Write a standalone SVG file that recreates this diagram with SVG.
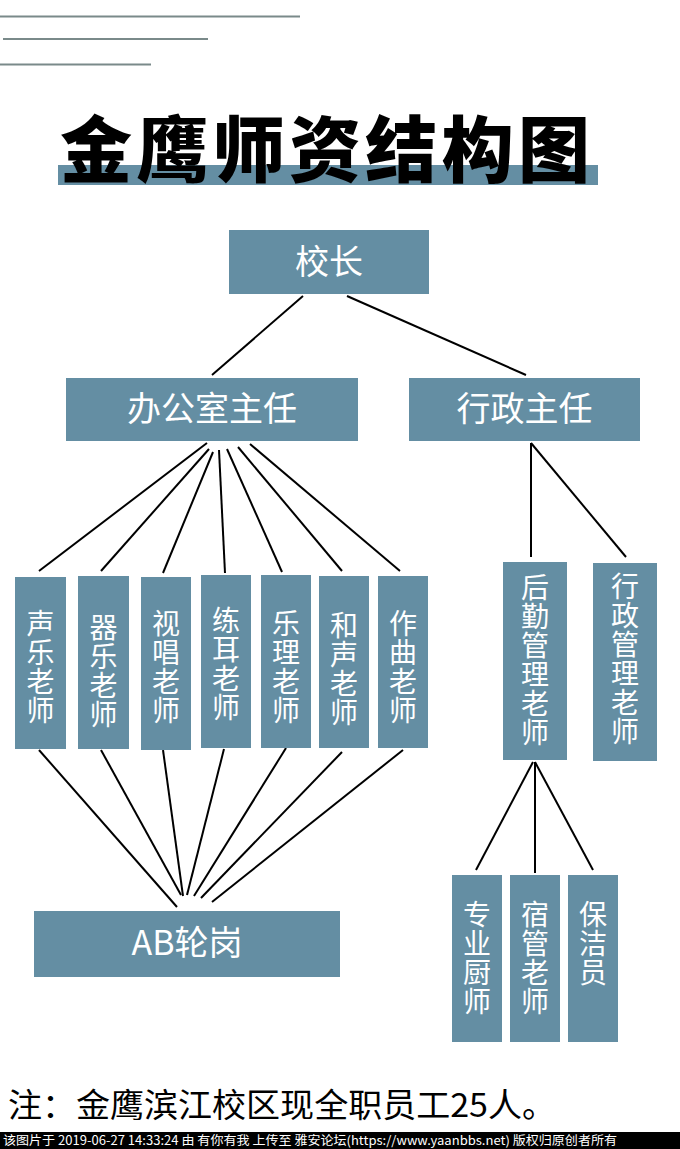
<svg xmlns="http://www.w3.org/2000/svg" width="680" height="1149" viewBox="0 0 680 1149">
<style>
.box{fill:#648ea3}
.t{font-family:"Noto Sans CJK SC","Noto Sans",sans-serif;fill:#ffffff;text-anchor:middle}
.h{font-size:34px}
.v{font-size:28px}
.c line{stroke:#000;stroke-width:2}
.deco{stroke:#7a8a8a;stroke-width:2}
</style>
<rect width="680" height="1149" fill="#ffffff"/>
<g id="decor">
<line class="deco" x1="0" y1="16.5" x2="300" y2="16.5"/>
<line class="deco" x1="3" y1="39" x2="208" y2="39"/>
<line class="deco" x1="0" y1="64.5" x2="151" y2="64.5"/>
</g>
<g id="title">
<rect class="box" x="58" y="165" width="540" height="20"/>
<text x="60" y="176" font-family="'Noto Sans CJK SC',sans-serif" font-weight="900" font-size="72" fill="#000" textLength="530" lengthAdjust="spacing">金鹰师资结构图</text>
</g>
<g class="c" id="connectors">
<line x1="303" y1="296" x2="212" y2="375"/>
<line x1="347" y1="296" x2="526" y2="375"/>
<line x1="207" y1="443" x2="39" y2="571"/>
<line x1="209" y1="449" x2="101" y2="571"/>
<line x1="213" y1="452" x2="163" y2="573"/>
<line x1="219" y1="450" x2="225" y2="573"/>
<line x1="227" y1="449" x2="282" y2="572"/>
<line x1="238" y1="447" x2="342" y2="571"/>
<line x1="250" y1="444" x2="400" y2="571"/>
<line x1="39" y1="750" x2="177" y2="907"/>
<line x1="101" y1="750" x2="181" y2="895"/>
<line x1="163" y1="750" x2="183" y2="896"/>
<line x1="224" y1="749" x2="187" y2="895"/>
<line x1="286" y1="748" x2="194" y2="896"/>
<line x1="342" y1="752" x2="201" y2="898"/>
<line x1="403" y1="750" x2="212" y2="902"/>
<line x1="531" y1="443" x2="531" y2="557"/>
<line x1="531" y1="443" x2="626" y2="557"/>
<line x1="533" y1="762" x2="476" y2="870"/>
<line x1="535" y1="762" x2="535" y2="873"/>
<line x1="535" y1="762" x2="593" y2="870"/>
</g>
<g id="n-principal"><rect class="box" x="229" y="230" width="200" height="64"/><text class="t h" x="329" y="274">校长</text></g>
<g id="n-office"><rect class="box" x="66" y="378" width="292" height="63"/><text class="t h" x="212" y="421">办公室主任</text></g>
<g id="n-admin"><rect class="box" x="409" y="378" width="231" height="63"/><text class="t h" x="524.5" y="421">行政主任</text></g>
<g id="n-vocal"><rect class="box" x="15" y="577" width="51" height="172"/><text class="t v" x="40.5"><tspan x="40.5" y="634">声</tspan><tspan x="40.5" dy="29">乐</tspan><tspan x="40.5" dy="29">老</tspan><tspan x="40.5" dy="29">师</tspan></text></g>
<g id="n-instr"><rect class="box" x="78" y="576" width="51" height="173"/><text class="t v" x="103.5"><tspan x="103.5" y="638">器</tspan><tspan x="103.5" dy="29">乐</tspan><tspan x="103.5" dy="29">老</tspan><tspan x="103.5" dy="29">师</tspan></text></g>
<g id="n-sight"><rect class="box" x="141" y="577" width="50" height="173"/><text class="t v" x="166"><tspan x="166" y="634">视</tspan><tspan x="166" dy="29">唱</tspan><tspan x="166" dy="29">老</tspan><tspan x="166" dy="29">师</tspan></text></g>
<g id="n-ear"><rect class="box" x="201" y="575" width="50" height="173"/><text class="t v" x="226"><tspan x="226" y="631">练</tspan><tspan x="226" dy="29">耳</tspan><tspan x="226" dy="29">老</tspan><tspan x="226" dy="29">师</tspan></text></g>
<g id="n-theory"><rect class="box" x="261" y="575" width="50" height="173"/><text class="t v" x="286"><tspan x="286" y="634">乐</tspan><tspan x="286" dy="29">理</tspan><tspan x="286" dy="29">老</tspan><tspan x="286" dy="29">师</tspan></text></g>
<g id="n-harmony"><rect class="box" x="319" y="576" width="50" height="172"/><text class="t v" x="344"><tspan x="344" y="636">和</tspan><tspan x="344" dy="29">声</tspan><tspan x="344" dy="29">老</tspan><tspan x="344" dy="29">师</tspan></text></g>
<g id="n-compose"><rect class="box" x="378" y="576" width="50" height="172"/><text class="t v" x="403"><tspan x="403" y="634">作</tspan><tspan x="403" dy="29">曲</tspan><tspan x="403" dy="29">老</tspan><tspan x="403" dy="29">师</tspan></text></g>
<g id="n-ab"><rect class="box" x="34" y="911" width="306" height="66"/><text class="t h" x="187" y="955">AB轮岗</text></g>
<g id="n-logistics"><rect class="box" x="503" y="562" width="64" height="198"/><text class="t v" x="535"><tspan x="535" y="598">后</tspan><tspan x="535" dy="29">勤</tspan><tspan x="535" dy="29">管</tspan><tspan x="535" dy="29">理</tspan><tspan x="535" dy="29">老</tspan><tspan x="535" dy="29">师</tspan></text></g>
<g id="n-adminteacher"><rect class="box" x="593" y="563" width="64" height="198"/><text class="t v" x="625"><tspan x="625" y="597">行</tspan><tspan x="625" dy="29">政</tspan><tspan x="625" dy="29">管</tspan><tspan x="625" dy="29">理</tspan><tspan x="625" dy="29">老</tspan><tspan x="625" dy="29">师</tspan></text></g>
<g id="n-chef"><rect class="box" x="452" y="875" width="50" height="167"/><text class="t v" x="477"><tspan x="477" y="925">专</tspan><tspan x="477" dy="29">业</tspan><tspan x="477" dy="29">厨</tspan><tspan x="477" dy="29">师</tspan></text></g>
<g id="n-dorm"><rect class="box" x="510" y="875" width="50" height="167"/><text class="t v" x="535"><tspan x="535" y="925">宿</tspan><tspan x="535" dy="29">管</tspan><tspan x="535" dy="29">老</tspan><tspan x="535" dy="29">师</tspan></text></g>
<g id="n-clean"><rect class="box" x="568" y="875" width="50" height="167"/><text class="t v" x="593"><tspan x="593" y="925">保</tspan><tspan x="593" dy="29">洁</tspan><tspan x="593" dy="29">员</tspan></text></g>
<g id="note">
<text x="8" y="1117" font-family="'Noto Sans CJK SC',sans-serif" font-size="33" fill="#000" textLength="548" lengthAdjust="spacingAndGlyphs">注：金鹰滨江校区现全职员工25人。</text>
</g>
<g id="footer">
<rect x="0" y="1132" width="680" height="17" fill="#000"/>
<text x="3" y="1145" font-family="'Noto Sans CJK SC',sans-serif" font-size="12.5" fill="#fff" textLength="614" lengthAdjust="spacingAndGlyphs">该图片于 2019-06-27 14:33:24 由 有你有我 上传至 雅安论坛(https://www.yaanbbs.net) 版权归原创者所有</text>
</g>
</svg>
